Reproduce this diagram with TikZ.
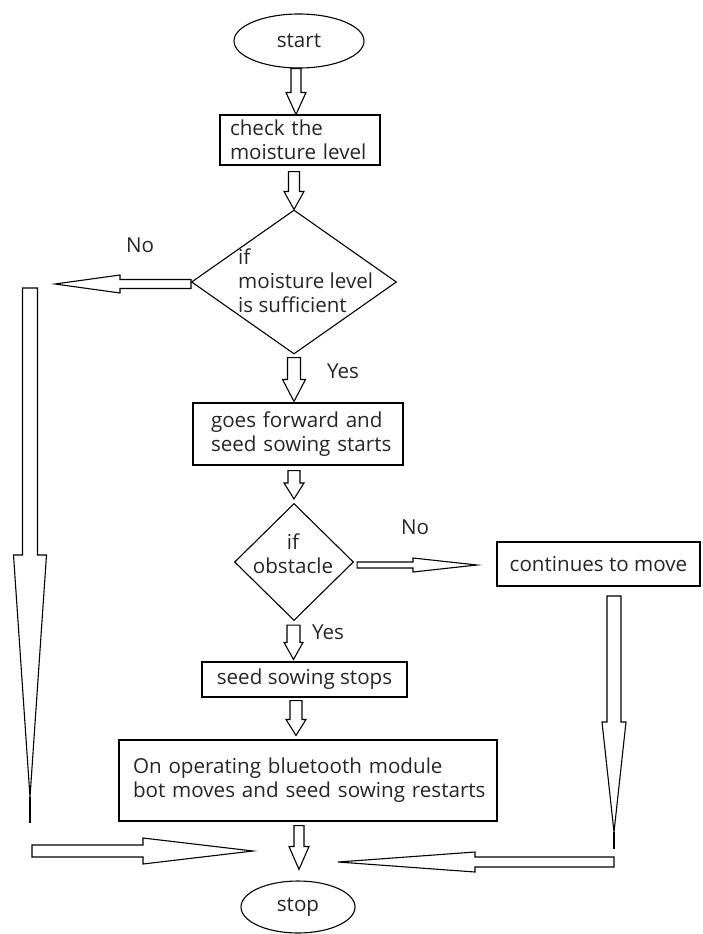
\documentclass[tikz,border=0pt]{standalone}
\usepackage{fontspec}
\setmainfont{Open Sans}
\usetikzlibrary{shapes.geometric,calc}
\newcommand\blkdown[5]{\draw[blk] let \p1=#1, \p2=#2 in ({\x2-#3pt},\y1) -- ({\x2+#3pt},\y1) -- ({\x2+#3pt},{\y2+#5pt}) -- ({\x2+#4pt},{\y2+#5pt}) -- (\x2,\y2) -- ({\x2-#4pt},{\y2+#5pt}) -- ({\x2-#3pt},{\y2+#5pt}) -- cycle;}
\newcommand\blkleft[5]{\draw[blk] let \p1=#1, \p2=#2 in (\x1,{\y2-#3pt}) -- (\x1,{\y2+#3pt}) -- ({\x2+#5pt},{\y2+#3pt}) -- ({\x2+#5pt},{\y2+#4pt}) -- (\x2,\y2) -- ({\x2+#5pt},{\y2-#4pt}) -- ({\x2+#5pt},{\y2-#3pt}) -- cycle;}
\newcommand\blkright[5]{\draw[blk] let \p1=#1, \p2=#2 in (\x1,{\y2-#3pt}) -- (\x1,{\y2+#3pt}) -- ({\x2-#5pt},{\y2+#3pt}) -- ({\x2-#5pt},{\y2+#4pt}) -- (\x2,\y2) -- ({\x2-#5pt},{\y2-#4pt}) -- ({\x2-#5pt},{\y2-#3pt}) -- cycle;}
\begin{document}
\begin{tikzpicture}[x=1pt,y=-1pt,
  every node/.style={font=\fontsize{20.6}{24}\selectfont, text=black!85},
  box/.style={draw=black, line width=1.1pt, inner sep=0pt},
  ell/.style={draw=black, line width=1.1pt, ellipse, inner sep=0pt},
  dia/.style={draw=black, line width=1.1pt, diamond, inner sep=0pt},
  txt/.style={inner sep=0pt},
  blk/.style={draw=black, line width=1.1pt, fill=white, line join=miter}]
\fill[white] (0,0) rectangle (702,934);
\useasboundingbox (0,0) rectangle (702,934);

\node[ell, minimum width=130pt, minimum height=54pt] (start) at (299,41) {start};
\node[box, minimum width=160pt, minimum height=50pt, inner xsep=10pt, text width=140pt, align=left] (check) at (300,140) {\mbox{check the}\\\mbox{moisture level}};
\node[dia, minimum width=205pt, minimum height=144pt] (d1) at (294,282) {};
\node[txt, anchor=west, align=left] (d1t) at (238,281) {if\\moisture level\\is sufficient};
\node[box, minimum width=210pt, minimum height=62pt, inner xsep=18pt, text width=174pt, align=left] (fwd) at (298,434) {\mbox{goes forward and}\\\mbox{seed sowing starts}};
\node[dia, minimum width=119pt, minimum height=117pt] (d2) at (294,562) {};
\node[txt, align=center] (d2t) at (293,554) {if\\obstacle};
\node[box, minimum width=203pt, minimum height=44pt] (cont) at (598.5,564) {continues to move};
\node[box, minimum width=205pt, minimum height=35pt] (sss) at (304.5,679.5) {seed sowing stops};
\node[box, minimum width=378pt, minimum height=81pt, inner xsep=14pt, text width=350pt, align=left] (bt) at (308,780.5) {\mbox{On operating bluetooth module}\\\mbox{bot moves and seed sowing restarts}};
\node[ell, minimum width=114pt, minimum height=52pt] (stop) at (298,907) {stop};

\node[txt] (no1) at (140,245) {No};
\node[txt] (yes1) at (343,371) {Yes};
\node[txt] (no2) at (415,527) {No};
\node[txt] (yes2) at (328,632) {Yes};

\coordinate (lvtop) at (30,288);
\coordinate (lvtip) at (30,797);
\coordinate (lvend) at (30,823);
\coordinate (rvtop) at (614,596);
\coordinate (rvtip) at (614,832);
\coordinate (rvend) at (614,849);
\coordinate (blstart) at (32,851);
\coordinate (bltip) at (253,851);
\coordinate (brstart) at (614,862);
\coordinate (brtip) at (338,862);
\coordinate (d1tip) at (55,284);
\coordinate (d2tip) at (477,565);

\blkdown{($(start.south)+(-3,0)$)}{($(check.north)+(-4,0)$)}{5}{10}{22}
\blkdown{($(check.south)+(0,6)$)}{(d1.north)}{5.5}{10}{18}
\blkdown{($(d1.south)+(0,3)$)}{($(fwd.north)+(-4,-1)$)}{6.5}{11.5}{22}
\blkdown{($(fwd.south)+(0,5)$)}{($(d2.north)+(0,-4)$)}{6}{10}{16}
\blkdown{($(d2.south)+(0,4)$)}{($(sss.north)+(-11,-2)$)}{6.5}{9.5}{17}
\blkdown{($(sss.south)+(0,3)$)}{($(bt.north)+(-12,-4)$)}{6}{10}{16}
\blkdown{($(bt.south)+(0,4)$)}{($(stop.north)+(1,-11)$)}{5}{10}{23}

\blkleft{(d1.west)}{(d1tip)}{4.5}{9}{65}
\blkright{($(d2.east)+(3,0)$)}{(d2tip)}{3}{7}{64}

\blkdown{(lvtop)}{(lvtip)}{7.5}{16.5}{242}
\draw[line width=1.1pt] (lvtip) -- (lvend);
\blkdown{(rvtop)}{(rvtip)}{7}{12}{110}
\draw[line width=1.1pt] (rvtip) -- (rvend);
\blkright{(blstart)}{(bltip)}{6}{13}{110}
\blkleft{(brstart)}{(brtip)}{5}{10}{137}
\end{tikzpicture}
\end{document}
